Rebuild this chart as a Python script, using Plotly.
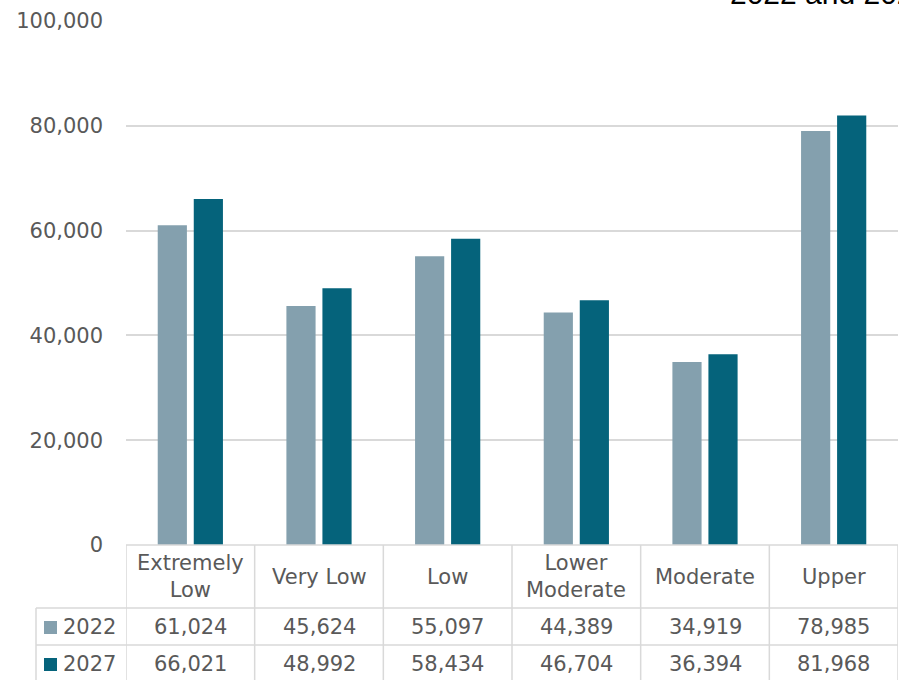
import plotly.graph_objects as go

# Income categories and household counts
categories = ["Extremely<br>Low", "Very Low", "Low", "Lower<br>Moderate", "Moderate", "Upper"]
years = ["2022", "2027"]
values_2022 = [61024, 45624, 55097, 44389, 34919, 78985]
values_2027 = [66021, 48992, 58434, 46704, 36394, 81968]
y_ticks = [0, 20000, 40000, 60000, 80000, 100000]

colors = {"2022": "#84A0AE", "2027": "#05637B"}
series = {"2022": values_2022, "2027": values_2027}

W, H = 899, 680
L, R, T, B = 126, 1, 21, 135
plot_w = W - L - R
plot_h = H - T - B
text_col = "#595959"
grid_col = "#D9D9D9"
FONT = "DejaVu Sans"
FS = 21


def py(pix):
    """Pixel row (from top of page) to paper y."""
    return (H - B - pix) / plot_h


def px(pix):
    """Pixel column to paper x."""
    return (pix - L) / plot_w


fig = go.Figure()
for yr in years:
    fig.add_trace(go.Bar(
        x=list(range(len(categories))), y=series[yr], name=yr,
        marker=dict(color=colors[yr], line=dict(width=0)),
    ))

shapes = []
annotations = []

# Data table under the plot
row_top = H - B
row1 = 608
row2 = 645
row3 = 682
n = len(categories)

# horizontal rules
shapes.append(dict(type="line", xref="paper", yref="paper", x0=0, x1=1,
                   y0=py(row_top), y1=py(row_top), line=dict(color=grid_col, width=1.5)))
for r in (row1, row2, row3):
    shapes.append(dict(type="line", xref="paper", yref="paper", x0=px(36), x1=1,
                       y0=py(r), y1=py(r), line=dict(color=grid_col, width=1.5)))
# vertical rules
for i in range(n + 1):
    shapes.append(dict(type="line", xref="x", yref="paper", x0=i - 0.5, x1=i - 0.5,
                       y0=py(row_top), y1=py(row3), line=dict(color=grid_col, width=1.5)))
shapes.append(dict(type="line", xref="paper", yref="paper", x0=px(36), x1=px(36),
                   y0=py(row1), y1=py(row3), line=dict(color=grid_col, width=1.5)))

# header labels
for i, c in enumerate(categories):
    annotations.append(dict(x=i, y=py((row_top + row1) / 2), xref="x", yref="paper",
                            text=c, showarrow=False, xanchor="center", yanchor="middle",
                            font=dict(family=FONT, size=FS, color=text_col)))

# value rows with legend keys
for yr, top, bot in (("2022", row1, row2), ("2027", row2, row3)):
    mid = (top + bot) / 2
    shapes.append(dict(type="rect", xref="paper", yref="paper",
                       x0=px(44), x1=px(57), y0=py(mid - 5.5), y1=py(mid + 7.5),
                       fillcolor=colors[yr], line=dict(width=0)))
    annotations.append(dict(x=px(61), y=py(mid), xref="paper", yref="paper", text=yr,
                            showarrow=False, xanchor="left", yanchor="middle",
                            font=dict(family=FONT, size=FS, color=text_col)))
    for i, v in enumerate(series[yr]):
        annotations.append(dict(x=i, y=py(mid), xref="x", yref="paper", text=f"{v:,}",
                                showarrow=False, xanchor="center", yanchor="middle",
                                font=dict(family=FONT, size=FS, color=text_col)))

# chart title (runs past the top and right edges of the page)
annotations.append(dict(x=px(728), y=py(-7), xref="paper", yref="paper",
                        text="2022 and 2027", showarrow=False, xanchor="left", yanchor="middle",
                        font=dict(family="Liberation Sans, Arial", size=30, color="#000000")))

fig.update_layout(
    width=W, height=H,
    margin=dict(l=L, r=R, t=T, b=B, pad=0),
    paper_bgcolor="white", plot_bgcolor="white",
    barmode="group", bargap=0.44, bargroupgap=0.19,
    showlegend=False,
    shapes=shapes, annotations=annotations,
    xaxis=dict(range=[-0.5, n - 0.5], showticklabels=False, showgrid=False,
               zeroline=False, showline=False, ticks=""),
    yaxis=dict(range=[0, 100000], tickvals=y_ticks,
               ticktext=[f"{t:,}" for t in y_ticks],
               showgrid=True, gridcolor=grid_col, gridwidth=1.5,
               zeroline=False, showline=False, ticks="",
               ticklabelstandoff=22,
               tickfont=dict(family=FONT, size=FS, color=text_col)),
)

fig.write_html("out.html")
